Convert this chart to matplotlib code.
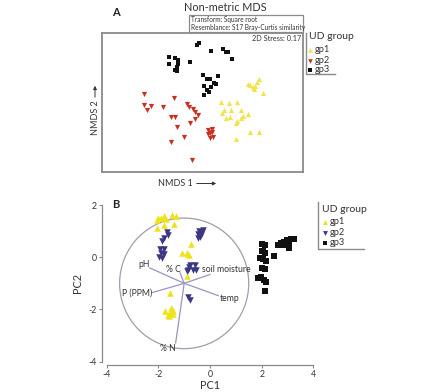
import matplotlib
matplotlib.use("Agg")
import matplotlib.pyplot as plt
from matplotlib.lines import Line2D
from matplotlib.patches import Circle, FancyArrowPatch, Rectangle
import numpy as np

plt.rcParams['font.family'] = ['Lato', 'DejaVu Sans']
plt.rcParams['axes.unicode_minus'] = False

# ---------------- Panel A: NMDS ----------------
a_gp1_x = [0.46, 0.48, 0.51, 0.53, 0.55, 0.57, 0.61, 0.52, 0.19, 0.27, 0.35, 0.29, 0.20, 0.24,
           0.28, 0.39, 0.41, 0.46, 0.39, 0.35, 0.34, 0.48, 0.57, 0.34, 0.22]
a_gp1_y = [0.18, 0.17, 0.15, 0.16, 0.20, 0.23, 0.09, 0.13, 0.00, -0.01, 0.00, -0.08, -0.11, -0.16,
           -0.15, -0.08, -0.14, -0.12, -0.16, -0.19, -0.21, -0.30, -0.30, -0.37, -0.08]
a_gp2_x = [-0.58, -0.58, -0.51, -0.55, -0.39, -0.28, -0.15, -0.13, -0.09, -0.07, -0.04, -0.07, -0.12,
           -0.31, -0.27, -0.25, -0.18, -0.31, -0.10, 0.06, 0.10, 0.08, 0.06, 0.11, 0.08, 0.10]
a_gp2_y = [0.08, -0.03, -0.04, -0.08, -0.05, 0.04, -0.02, -0.05, -0.07, -0.10, -0.13, -0.17, -0.21,
           -0.15, -0.15, -0.25, -0.35, -0.40, -0.58, -0.28, -0.27, -0.31, -0.32, -0.35, -0.36, -0.30]
a_gp3_x = [-0.05, -0.03, 0.09, 0.21, 0.24, 0.26, 0.30, -0.33, -0.27, -0.33, -0.24, -0.24, -0.25,
           -0.27, -0.25, -0.12, 0.01, 0.05, 0.08, 0.16, 0.12, 0.14, 0.09, 0.02, 0.07, 0.05, 0.02]
a_gp3_y = [0.57, 0.59, 0.51, 0.53, 0.50, 0.50, 0.43, 0.45, 0.44, 0.38, 0.42, 0.38, 0.35,
           0.32, 0.31, 0.40, 0.27, 0.23, 0.23, 0.26, 0.19, 0.18, 0.15, 0.16, 0.10, 0.12, 0.07]

# ---------------- Panel B: PCA ----------------
b_gp1_x = [-2.07, -1.90, -1.78, -1.72, -1.49, -1.32, -2.07, -1.77, -1.40, -2.00,
           -0.75, -1.10, -0.90, -0.82, -0.86, -0.90,
           -1.55, -1.74, -1.62, -1.49, -1.42, -1.55, -1.45, -1.58, -1.51]
b_gp1_y = [1.42, 1.51, 1.57, 1.47, 1.62, 1.58, 1.12, 1.25, 1.28, 1.51,
           0.49, 0.17, 0.17, 0.08, 0.13, -0.73,
           -1.37, -2.07, -2.20, -2.00, -2.07, -2.15, -2.17, -2.25, -1.94]
b_gp2_x = [-1.68, -1.64, -1.78, -1.87, -1.94, -1.80, -1.90, -1.78, -1.87, -1.96,
           -0.41, -0.32, -0.45, -0.36, -0.40, -0.48, -0.28,
           -0.78, -0.58, -0.84, -0.67, -0.54, -0.90, -0.80, -0.84, -0.78]
b_gp2_y = [0.98, 0.87, 0.75, 0.61, 0.31, 0.30, 0.16, 0.14, -0.02, 0.01,
           1.00, 0.95, 0.88, 0.85, 0.76, 0.72, 1.03,
           -0.28, -0.28, -0.47, -0.47, -0.49, -0.54, -0.37, -1.52, -1.65]
b_gp3_x = [2.00, 2.13, 2.07, 2.13, 1.94, 2.07, 2.17, 2.48, 2.02, 2.12, 1.86, 1.98, 2.08, 2.17,
           2.14, 2.65, 2.76, 2.86, 2.97, 3.07, 3.14, 2.98, 3.05, 2.82, 3.26, 2.02]
b_gp3_y = [0.49, 0.45, 0.25, 0.17, -0.03, -0.07, -0.15, 0.04, -0.43, -0.45, -0.79, -0.75, -0.88, -0.95,
           -1.30, 0.47, 0.53, 0.57, 0.66, 0.58, 0.70, 0.45, 0.34, 0.47, 0.71, 0.22]

vec_names = ['pH', '% C', 'soil moisture', 'P (PPM)', 'temp', '% N']
vec_dx = [-1.33, -0.16, 1.00, -1.26, 1.32, -0.33]
vec_dy = [0.59, 0.40, 0.34, -0.36, -0.47, -2.28]
label_x = [-2.54, -1.41, 0.63, -2.81, 0.76, -1.62]
label_y = [-0.28, -0.48, -0.47, -1.39, -1.57, -3.50]
circle_center = (-1.0, -1.0)
circle_radius = 2.5

groups = ['gp1', 'gp2', 'gp3']

W, H = 445, 392
fig = plt.figure(figsize=(W / 100, H / 100), dpi=100)

def fx(px):
    return px / W

def fy(py):
    return 1 - py / H

text_col = '#333333'
gray = '#8a8a8a'

# ---- Panel A ----
axA = fig.add_axes([fx(102), fy(172), fx(303) - fx(102), fy(33) - fy(172)])
axA.set_xlim(-1.0, 1.01)
axA.set_ylim(-0.70, 0.69)
axA.set_xticks([])
axA.set_yticks([])
for s in axA.spines.values():
    s.set_color(gray)
    s.set_linewidth(1.3)
cA = {'gp1': '#f1e34a', 'gp2': '#c8301f', 'gp3': '#111111'}
axA.scatter(a_gp1_x, a_gp1_y, marker='^', s=14, color=cA['gp1'], linewidths=0)
axA.scatter(a_gp2_x, a_gp2_y, marker='v', s=14, color=cA['gp2'], linewidths=0)
axA.scatter(a_gp3_x, a_gp3_y, marker='s', s=10, color=cA['gp3'], linewidths=0)

fig.text(fx(115.5), fy(13), 'A', fontsize=8, fontweight='bold', ha='center', va='center', color='#222222')
fig.text(fx(225), fy(7.5), 'Non-metric MDS', fontsize=7.8, ha='center', va='center', color=text_col)
fig.add_artist(Rectangle((fx(189.3), fy(31.7)), fx(303.3) - fx(189.3), fy(15) - fy(31.7),
                         transform=fig.transFigure, facecolor='white', edgecolor=gray, linewidth=0.9))
fig.text(fx(191), fy(19.3), 'Transform: Square root', fontsize=4.7, ha='left', va='center', color=text_col)
fig.text(fx(191), fy(27.2), 'Resemblance: S17 Bray-Curtis similarity', fontsize=4.7, ha='left', va='center',
         color=text_col)
fig.text(fx(301), fy(38.5), '2D Stress: 0.17', fontsize=5.2, ha='right', va='center', color=text_col)
fig.text(fx(158), fy(183.5), 'NMDS 1', fontsize=6.5, ha='left', va='center', color=text_col)
fig.add_artist(FancyArrowPatch((fx(194), fy(183.5)), (fx(219), fy(183.5)), transform=fig.transFigure,
                               arrowstyle='-|>', mutation_scale=5, color='#333333', linewidth=0.7))
fig.text(fx(95), fy(118), 'NMDS 2', fontsize=6.5, rotation=90, ha='center', va='center', color=text_col)
fig.add_artist(FancyArrowPatch((fx(95), fy(100)), (fx(95), fy(83)), transform=fig.transFigure,
                               arrowstyle='-|>', mutation_scale=5, color='#333333', linewidth=0.7))

# legend A
fig.text(fx(309), fy(36.5), 'UD group', fontsize=7.5, ha='left', va='center', color=text_col)
legA_y = [49.5, 60.5, 70]
legA_m = ['^', 'v', 's']
for g, yy, m in zip(groups, legA_y, legA_m):
    fig.add_artist(Line2D([fx(310)], [fy(yy)], marker=m, markersize=3.3, color=cA[g], linestyle='none',
                          markeredgewidth=0, transform=fig.transFigure))
    fig.text(fx(315), fy(yy), g, fontsize=6.7, ha='left', va='center', color=text_col)
fig.add_artist(Line2D([fx(305.7), fx(305.7), fx(335)], [fy(33), fy(73.5), fy(73.5)],
                      color=gray, linewidth=1.0, transform=fig.transFigure))

# ---- Panel B ----
axB = fig.add_axes([fx(106.7), fy(361.7), fx(313.3) - fx(106.7), fy(205) - fy(361.7)])
axB.set_xlim(-4, 4)
axB.set_ylim(-4, 2)
axB.set_xticks([-4, -2, 0, 2, 4])
axB.set_yticks([-4, -2, 0, 2])
for side in ['top', 'right']:
    axB.spines[side].set_visible(False)
axB.spines['left'].set_position(('outward', 3.5))
axB.spines['bottom'].set_position(('outward', 2.5))
for side in ['left', 'bottom']:
    axB.spines[side].set_color(gray)
    axB.spines[side].set_linewidth(0.9)
axB.tick_params(length=2.5, width=0.8, color=gray, labelsize=6.3, labelcolor=text_col, pad=1.2)
axB.set_xlabel('PC1', fontsize=7.8, color=text_col, labelpad=0.5)
axB.set_ylabel('PC2', fontsize=7.8, color=text_col, labelpad=4)
axB.patch.set_alpha(0)

vec_col = '#9a94c0'
circ = Circle(circle_center, circle_radius, fill=False, edgecolor='#a899ad', linewidth=0.9)
axB.add_patch(circ)
for name, dx, dy, lx, ly in zip(vec_names, vec_dx, vec_dy, label_x, label_y):
    axB.plot([circle_center[0], circle_center[0] + dx], [circle_center[1], circle_center[1] + dy],
             color=vec_col, linewidth=0.9)
    axB.text(lx, ly, name, fontsize=6.2, ha='center', va='center', color=text_col)

cB = {'gp1': '#eee31a', 'gp2': '#3b3784', 'gp3': '#111111'}
axB.scatter(b_gp1_x, b_gp1_y, marker='^', s=22, color=cB['gp1'], linewidths=0, zorder=3)
axB.scatter(b_gp2_x, b_gp2_y, marker='v', s=22, color=cB['gp2'], linewidths=0, zorder=3)
axB.scatter(b_gp3_x, b_gp3_y, marker='s', s=14, color=cB['gp3'], linewidths=0, zorder=3)

fig.text(fx(115.5), fy(205), 'B', fontsize=8, fontweight='bold', ha='center', va='center', color='#222222')

fig.text(fx(322.5), fy(209), 'UD group', fontsize=7.5, ha='left', va='center', color=text_col)
legB_y = [221.7, 232.7, 242.7]
for g, yy, m in zip(groups, legB_y, legA_m):
    fig.add_artist(Line2D([fx(325)], [fy(yy)], marker=m, markersize=3.5, color=cB[g], linestyle='none',
                          markeredgewidth=0, transform=fig.transFigure))
    fig.text(fx(330), fy(yy), g, fontsize=6.7, ha='left', va='center', color=text_col)
fig.add_artist(Line2D([fx(318.3), fx(318.3), fx(364.3)], [fy(201.7), fy(249.3), fy(249.3)],
                      color=gray, linewidth=1.0, transform=fig.transFigure))

fig.savefig('out.png', dpi=100)
